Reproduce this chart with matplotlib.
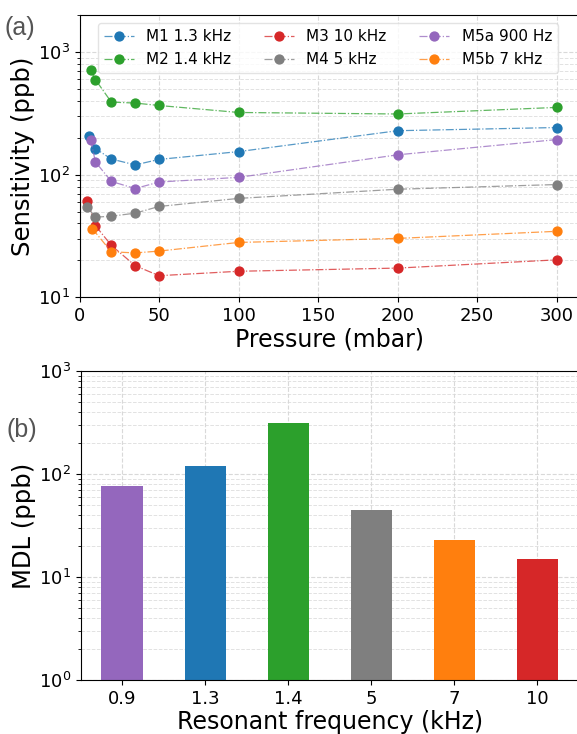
import matplotlib
matplotlib.use("Agg")
import matplotlib.pyplot as plt
from matplotlib.colors import to_rgba
from matplotlib.ticker import LogLocator, NullFormatter

plt.rcParams["font.family"] = ["DejaVu Sans"]

# Sensitivity vs pressure for each resonator
labels = ["M1 1.3 kHz", "M2 1.4 kHz", "M3 10 kHz", "M4 5 kHz", "M5a 900 Hz", "M5b 7 kHz"]
colors = ["tab:blue", "tab:green", "tab:red", "tab:gray", "tab:purple", "tab:orange"]

p_m1 = [6, 10, 20, 35, 50, 100, 200, 300]
s_m1 = [208, 163, 134, 120, 133, 154, 228, 242]
p_m2 = [7, 10, 20, 35, 50, 100, 200, 300]
s_m2 = [708, 595, 390, 383, 366, 321, 312, 353]
p_m3 = [5, 10, 20, 35, 50, 100, 200, 300]
s_m3 = [61, 38.4, 26.5, 18.1, 15, 16.3, 17.3, 20.2]
p_m4 = [5, 10, 20, 35, 50, 100, 200, 300]
s_m4 = [54, 45, 45.8, 48.5, 55, 64, 76, 83]
p_m5a = [7, 10, 20, 35, 50, 100, 200, 300]
s_m5a = [193, 127, 88, 77, 87, 95, 145, 193]
p_m5b = [8, 20, 35, 50, 100, 200, 300]
s_m5b = [36.3, 23.5, 23, 23.8, 28, 30.2, 34.5]

# Minimum detection limit per resonant frequency
freq_labels = ["0.9", "1.3", "1.4", "5", "7", "10"]
mdl = [77, 120, 312, 45, 23, 15]
bar_colors = ["tab:purple", "tab:blue", "tab:green", "tab:gray", "tab:orange", "tab:red"]

W, H = 577, 734
fig = plt.figure(figsize=(W / 100, H / 100), dpi=100)


def frac(l, t, r, b):
    return [l / W, 1 - b / H, (r - l) / W, (b - t) / H]


def style_axes(ax):
    ax.grid(True, which="major", linestyle="--", color="#d0d0d0", linewidth=0.8, alpha=0.8)
    ax.grid(True, which="minor", axis="y", linestyle="--", color="#d8d8d8", linewidth=0.7, alpha=0.75)
    ax.set_axisbelow(True)
    ax.spines["right"].set_visible(False)
    ax.yaxis.set_minor_locator(LogLocator(base=10, subs=range(2, 10)))
    ax.yaxis.set_minor_formatter(NullFormatter())
    ax.tick_params(labelsize=13)


# ---- panel (a)
ax1 = fig.add_axes(frac(79.5, 15, 579, 297.3))
series = [(p_m1, s_m1), (p_m2, s_m2), (p_m3, s_m3), (p_m4, s_m4), (p_m5a, s_m5a), (p_m5b, s_m5b)]
for (x, y), lab, c in zip(series, labels, colors):
    ax1.plot(x, y, linestyle="-.", linewidth=0.9, color=to_rgba(c, 0.75),
             marker="o", markersize=6.4, markerfacecolor=c, markeredgecolor=c, label=lab)
ax1.set_yscale("log")
ax1.set_ylim(10, 2000)
ax1.set_xlim(0, 314)
ax1.set_xticks([0, 50, 100, 150, 200, 250, 300])
style_axes(ax1)
ax1.set_xlabel("Pressure (mbar)", fontsize=17, labelpad=2)
ax1.set_ylabel("Sensitivity (ppb)", fontsize=17.5, labelpad=2)
ax1.legend(ncol=3, loc="upper right", bbox_to_anchor=(0.958, 0.971), borderaxespad=0,
           fontsize=11, columnspacing=2.1, framealpha=0.8, edgecolor="#dddddd")
fig.text(5 / W, 1 - 35 / H, "(a)", fontsize=18, color="#555555", family="Liberation Sans")

# ---- panel (b)
ax2 = fig.add_axes(frac(80.7, 371, 579, 680))
pos = list(range(len(freq_labels)))
ax2.bar(pos, mdl, width=0.5, color=bar_colors)
ax2.set_yscale("log")
ax2.set_ylim(1, 1000)
ax2.set_xlim(-0.5, 5.5)
ax2.set_xticks(pos)
ax2.set_xticklabels(freq_labels)
style_axes(ax2)
ax2.set_xlabel("Resonant frequency (kHz)", fontsize=17, labelpad=2)
ax2.set_ylabel("MDL (ppb)", fontsize=17.5, labelpad=2)
fig.text(7 / W, 1 - 437 / H, "(b)", fontsize=18, color="#555555", family="Liberation Sans")

fig.savefig("out.png", dpi=100)
